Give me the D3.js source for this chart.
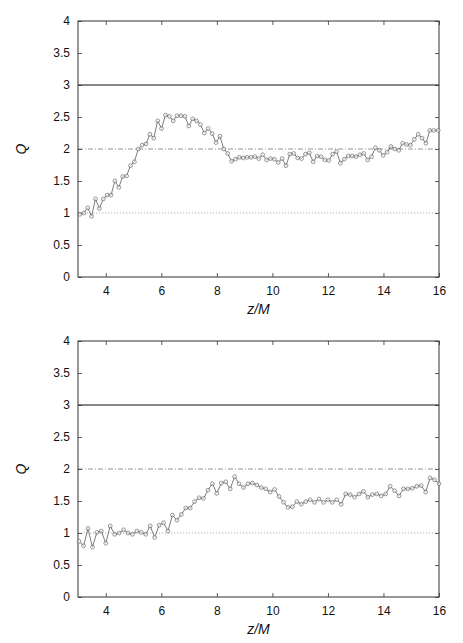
<!DOCTYPE html>
<html><head><meta charset="utf-8">
<script src="https://cdn.jsdelivr.net/npm/d3@7"></script>
<style>html,body{margin:0;padding:0;background:#fff;}svg{display:block;}</style>
</head><body>
<script>
const zTop = [3.07,3.21,3.35,3.49,3.63,3.77,3.91,4.05,4.19,4.33,4.47,4.61,4.75,4.89,5.03,5.17,5.31,5.45,5.59,5.73,5.87,6.01,6.15,6.29,6.43,6.57,6.71,6.85,6.99,7.13,7.27,7.41,7.55,7.69,7.83,7.97,8.11,8.25,8.39,8.53,8.67,8.81,8.95,9.09,9.23,9.37,9.51,9.65,9.79,9.93,10.07,10.21,10.35,10.49,10.63,10.77,10.91,11.05,11.19,11.33,11.47,11.61,11.75,11.89,12.03,12.17,12.31,12.45,12.59,12.73,12.87,13.01,13.15,13.29,13.43,13.57,13.71,13.85,13.99,14.13,14.27,14.41,14.55,14.69,14.83,14.97,15.11,15.25,15.39,15.53,15.67,15.81,15.97];
const qTop = [0.98,1.00,1.08,0.95,1.22,1.07,1.22,1.28,1.28,1.50,1.40,1.57,1.58,1.74,1.80,2.00,2.06,2.08,2.23,2.17,2.44,2.32,2.53,2.51,2.44,2.52,2.52,2.51,2.36,2.47,2.44,2.38,2.25,2.32,2.24,2.10,2.20,2.00,1.93,1.81,1.84,1.87,1.86,1.87,1.87,1.88,
1.85,1.91,1.83,1.85,1.84,1.79,1.85,1.74,1.92,1.93,1.86,1.85,1.92,1.94,1.80,1.89,1.88,1.83,1.82,1.92,1.96,1.78,1.84,1.89,1.89,1.88,1.91,1.93,1.83,1.88,2.02,1.98,1.90,1.95,2.04,2.00,1.98,2.09,2.07,2.06,2.15,2.23,2.17,2.09,2.29,2.29,2.29];
const zBot = [3.04,3.20,3.36,3.52,3.68,3.84,4.00,4.16,4.32,4.48,4.64,4.80,4.96,5.12,5.28,5.44,5.60,5.76,5.92,6.08,6.24,6.40,6.56,6.72,6.88,7.04,7.20,7.36,7.52,7.68,7.84,8.00,8.16,8.32,8.48,8.64,8.80,8.96,9.12,9.28,9.44,9.60,9.76,9.92,10.08,10.24,10.40,10.56,10.72,10.88,11.04,11.20,11.36,11.52,11.68,11.84,12.00,12.16,12.32,12.48,12.64,12.80,12.96,13.12,13.28,13.44,13.60,13.76,13.92,14.08,14.24,14.40,14.56,14.72,14.88,15.04,15.20,15.36,15.52,15.68,15.84,16.00];
const qBot = [0.87,0.80,1.07,0.78,1.01,1.03,0.84,1.11,0.98,1.00,1.05,1.00,0.98,1.03,1.01,0.98,1.11,0.93,1.12,1.16,1.03,1.28,1.20,1.29,1.39,1.39,1.49,1.55,1.54,1.67,1.77,1.62,1.78,1.80,1.69,1.88,1.77,1.71,1.77,1.78,1.75,
1.71,1.69,1.64,1.68,1.57,1.48,1.40,1.41,1.49,1.45,1.49,1.52,1.48,1.53,1.48,1.52,1.48,1.52,1.45,1.61,1.60,1.56,1.61,1.65,1.56,1.60,1.61,1.58,1.61,1.73,1.66,1.58,1.69,1.69,1.70,1.73,1.74,1.64,1.86,1.83,1.77];
const xTicks = [4,6,8,10,12,14,16];
const yTicks = [0,0.5,1,1.5,2,2.5,3,3.5,4];
const yTickLabels = ["0","0.5","1","1.5","2","2.5","3","3.5","4"];
const refLevels = [3,2,1];
const xDomain = [3,16];
const yDomain = [0,4];

const W = 463, H = 643;
const svg = d3.select("body").append("svg").attr("width", W).attr("height", H);
const font = "'Liberation Sans', Arial, Helvetica, sans-serif";

function panel(top, zs, qs) {
  const left = 78, right = 439, h = 256;
  const x = d3.scaleLinear().domain(xDomain).range([left, right]);
  const y = d3.scaleLinear().domain(yDomain).range([top + h, top]);
  const g = svg.append("g");

  const refStyle = {
    3: {stroke: "#111", dash: null, w: 1},
    2: {stroke: "#8a8a8a", dash: "5,2,1,2", w: 0.9},
    1: {stroke: "#a8a8a8", dash: "1.2,1.8", w: 0.9}
  };
  refLevels.forEach(v => {
    const s = refStyle[v];
    g.append("line").attr("x1", left).attr("x2", right)
      .attr("y1", y(v)).attr("y2", y(v))
      .attr("stroke", s.stroke).attr("stroke-width", s.w)
      .attr("stroke-dasharray", s.dash);
  });

  const ax = g.append("g").attr("transform", `translate(0,${top + h})`)
    .call(d3.axisBottom(x).tickValues(xTicks).tickSizeInner(-4).tickSizeOuter(0).tickPadding(9));
  const axTop = g.append("g").attr("transform", `translate(0,${top})`)
    .call(d3.axisTop(x).tickValues(xTicks).tickSizeInner(-4).tickSizeOuter(0).tickFormat(""));
  const ay = g.append("g").attr("transform", `translate(${left},0)`)
    .call(d3.axisLeft(y).tickValues(yTicks).tickFormat((d, i) => yTickLabels[i]).tickSizeInner(-4).tickSizeOuter(0).tickPadding(8));
  const ayR = g.append("g").attr("transform", `translate(${right},0)`)
    .call(d3.axisRight(y).tickValues(yTicks).tickSizeInner(-4).tickSizeOuter(0).tickFormat(""));
  [ax, axTop, ay, ayR].forEach(a => {
    a.select(".domain").remove();
    a.selectAll(".tick line").attr("stroke", "#333").attr("stroke-width", 0.8);
    a.selectAll("text").attr("font-family", font).attr("font-size", 12).attr("fill", "#111");
  });
  g.append("rect").attr("x", left).attr("y", top).attr("width", right - left).attr("height", h)
    .attr("fill", "none").attr("stroke", "#333").attr("stroke-width", 1);

  const pts = zs.map((z, i) => [z, qs[i]]);
  g.append("path").datum(pts)
    .attr("d", d3.line().x(d => x(d[0])).y(d => y(d[1])))
    .attr("fill", "none").attr("stroke", "#444").attr("stroke-width", 0.7);
  g.selectAll("circle.pt").data(pts).enter().append("circle")
    .attr("class", "pt")
    .attr("cx", d => x(d[0])).attr("cy", d => y(d[1])).attr("r", 1.9)
    .attr("fill", "#fff").attr("fill-opacity", 0.6).attr("stroke", "#555").attr("stroke-width", 0.6);

  g.append("text").attr("x", (left + right) / 2).attr("y", top + h + 37)
    .attr("text-anchor", "middle").attr("font-family", font).attr("font-style", "italic")
    .attr("font-size", 14).attr("fill", "#111").text("z/M");
  g.append("text").attr("transform", `translate(26,${top + h / 2}) rotate(-90)`)
    .attr("text-anchor", "middle").attr("font-family", font).attr("font-style", "italic")
    .attr("font-size", 14).attr("fill", "#111").text("Q");
}

panel(21, zTop, qTop);
panel(341, zBot, qBot);
</script>
</body></html>
